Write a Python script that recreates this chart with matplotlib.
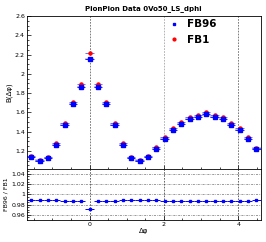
import numpy as np
import matplotlib
matplotlib.use("Agg")
import matplotlib.pyplot as plt

# bin centres: 28 bins over 2*pi, k = -7 .. 20
bin_index = list(range(-7, 21))
bin_width = 2 * np.pi / 28

fb96 = [1.140, 1.100, 1.124, 1.265, 1.470, 1.686, 1.866, 2.152, 1.866, 1.686,
        1.470, 1.265, 1.124, 1.100, 1.140, 1.225, 1.325, 1.417, 1.480, 1.530,
        1.550, 1.580, 1.555, 1.530, 1.470, 1.417, 1.325, 1.225]
fb1 = [1.152, 1.111, 1.135, 1.278, 1.489, 1.708, 1.890, 2.214, 1.890, 1.708,
       1.488, 1.278, 1.135, 1.111, 1.152, 1.238, 1.342, 1.435, 1.499, 1.550,
       1.570, 1.600, 1.575, 1.550, 1.489, 1.435, 1.342, 1.236]
ratio = [0.989, 0.9895, 0.990, 0.990, 0.9875, 0.987, 0.987, 0.972, 0.987, 0.987,
         0.988, 0.990, 0.990, 0.9895, 0.989, 0.9895, 0.9875, 0.9875, 0.987, 0.987,
         0.9875, 0.9875, 0.9875, 0.987, 0.987, 0.9875, 0.9875, 0.990]
ratio_err = 0.0015

top_ticks = [1.2, 1.4, 1.6, 1.8, 2.0, 2.2, 2.4, 2.6]
top_labels = ["1.2", "1.4", "1.6", "1.8", "2", "2.2", "2.4", "2.6"]
bot_ticks = [0.96, 0.98, 1.0, 1.02, 1.04]
bot_labels = ["0.96", "0.98", "1", "1.02", "1.04"]
x_ticks = [0, 2, 4]

x = np.array(bin_index) * bin_width
xlo, xhi = -7.5 * bin_width, 20.5 * bin_width

fig = plt.figure(figsize=(2.66, 2.42), dpi=100)
W, H = 266, 242
left, right = 27 / W, 260.5 / W
ax = fig.add_axes([left, 1 - 169.3 / H, right - left, (169.3 - 16) / H])
axr = fig.add_axes([left, 1 - 220 / H, right - left, (220 - 169.3) / H])

# top panel
for xv, c in zip(x_ticks, ["0.4", "0.65", "0.4"]):
    ax.axvline(xv, color=c, lw=0.6, ls=(0, (2, 1.5)), zorder=0)
for xi, yb, yr in zip(x, fb96, fb1):
    ax.add_patch(plt.Rectangle((xi - bin_width / 2, yb - 0.012), bin_width, 0.024,
                               facecolor="#c8c8f0", edgecolor="none", zorder=1))
ax.errorbar(x, fb1, xerr=bin_width / 2, yerr=0.01, fmt="o", ms=2.2, color="red",
            ecolor="#5050ff", elinewidth=0.6, capsize=0, zorder=2, label="FB1")
ax.errorbar(x, fb96, xerr=bin_width / 2, yerr=0.01, fmt="s", ms=2.4, color="blue",
            ecolor="blue", elinewidth=0.6, capsize=0, zorder=3, label="FB96")
ax.set_xlim(xlo, xhi)
ax.set_ylim(1.01, 2.6)
ax.set_yticks(top_ticks)
ax.set_yticklabels(top_labels)
ax.set_yticks(np.arange(1.05, 2.6, 0.05), minor=True)
ax.set_xticks(x_ticks)
ax.set_xticklabels([])
ax.set_ylabel("B(Δφ)", fontsize=5, labelpad=2)
ax.set_title("PionPion Data 0Vo50_LS_dphi", fontsize=5, fontweight="bold", pad=4)

h96 = plt.Line2D([], [], marker="s", ls="none", color="blue", ms=2)
h1 = plt.Line2D([], [], marker="o", ls="none", color="red", ms=2)
ax.legend([h96, h1], ["FB96", "FB1"], loc="upper left", bbox_to_anchor=(0.57, 1.04),
          frameon=False, handlelength=0.8, handletextpad=0.9,
          labelspacing=0.55, prop={"weight": "bold", "size": 7.5})

# ratio panel
for yv in bot_ticks:
    axr.axhline(yv, color="0.45", lw=0.5, ls=(0, (3, 1.5, 1, 1.5)), zorder=0)
for xv in x_ticks:
    axr.axvline(xv, color="0.3", lw=0.6, ls=(0, (2, 1.5)), zorder=0)
axr.errorbar(x, ratio, xerr=bin_width / 2, yerr=ratio_err, fmt="s", ms=2, color="blue",
             ecolor="blue", elinewidth=0.7, capsize=0, zorder=3)
axr.set_xlim(xlo, xhi)
axr.set_ylim(0.95, 1.049)
axr.set_yticks(bot_ticks)
axr.set_yticklabels(bot_labels)
axr.set_yticks(np.arange(0.955, 1.049, 0.005), minor=True)
axr.set_xticks(x_ticks)
axr.set_xticklabels([str(v) for v in x_ticks])
axr.set_ylabel("FB96 / FB1", fontsize=4.5, labelpad=2)
axr.set_xlabel("Δφ", fontsize=5, labelpad=1)

for a in (ax, axr):
    a.tick_params(direction="in", which="both", labelsize=4.5, length=3, width=0.5,
                  top=False, right=False, pad=1.5)
    a.tick_params(which="minor", length=1.5)
    a.set_xticks(np.arange(-1.5, 4.6, 0.5), minor=True)
    for s in a.spines.values():
        s.set_linewidth(0.6)

fig.savefig("out.png", dpi=100)
